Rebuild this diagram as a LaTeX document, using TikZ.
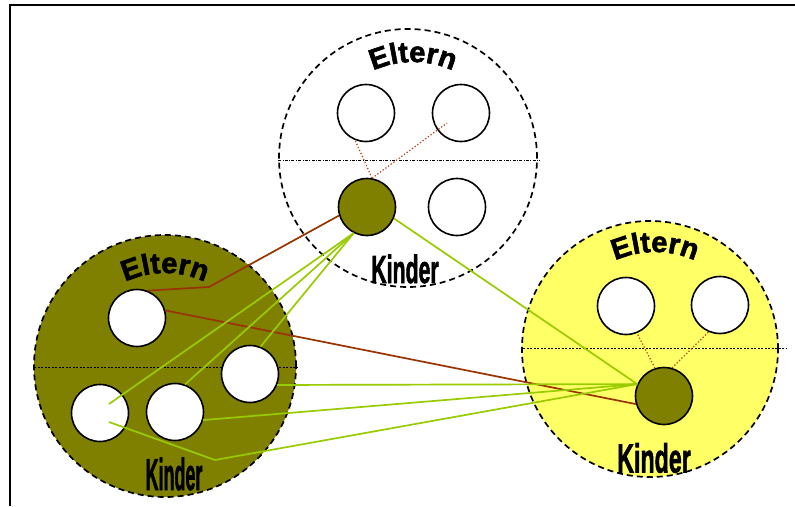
\documentclass[tikz,border=0pt]{standalone}
\usepackage{fontspec}
\setmainfont{Liberation Sans}
\newfontfamily\heavysans[FakeBold=2]{Liberation Sans Bold}
\usetikzlibrary{decorations.text,calc}
\definecolor{olivefill}{HTML}{808000}
\definecolor{paleyellow}{HTML}{FFFF66}
\definecolor{linkgreen}{HTML}{99CC00}
\definecolor{linkred}{HTML}{993300}
\definecolor{dotred}{HTML}{B5451B}
\newcommand\eltfont{\heavysans\fontsize{29}{30}\selectfont}
\newcommand\kindfont{\heavysans\fontsize{28}{30}\selectfont}

\begin{document}
\begin{tikzpicture}[x=1pt,y=-1pt,
  group/.style={circle,draw=black,line width=1.7pt,dash pattern=on 6pt off 4pt,
                inner sep=0pt,minimum size=#1},
  member/.style={circle,draw=black,line width=1.6pt,fill=white,inner sep=0pt,minimum size=57pt},
  divider/.style={black,line width=0.7pt},
  greenlink/.style={linkgreen,line width=1.7pt},
  redlink/.style={linkred,line width=1.7pt},
  kinship/.style={dotred,line width=1.2pt,dash pattern=on 1.3pt off 2pt},
  kindlabel/.style={inner sep=0pt,font=\kindfont}]

% canvas and frame
\fill[white] (0,0) rectangle (795,506);
\useasboundingbox (0,0) rectangle (795,506);
\draw[line width=2pt] (10,506) -- (10,5.3) -- (795,5.3);

% family groups
\node[group=258pt,fill=white] (T) at (408,158) {};
\node[group=262pt,fill=olivefill] (L) at (165,366) {};
\node[group=256pt,fill=paleyellow] (R) at (650,349) {};

% generation dividers
\draw[divider,dash pattern=on 3pt off 1.5pt on 0.7pt off 1.5pt] (278,160) -- (540,160);
\draw[divider,dash pattern=on 2pt off 1.5pt] (34,367) -- (297,367);
\draw[divider,dash pattern=on 2pt off 1.5pt] (523,348) -- (787,348);

% members
\node[member] (T1) at (366,113) {};
\node[member] (T2) at (461,113) {};
\node[member,fill=olivefill] (T3) at (367,207) {};
\node[member] (T4) at (457,207) {};

\node[member] (L1) at (137,318) {};
\node[member] (L2) at (100,413) {};
\node[member] (L3) at (175,412) {};
\node[member] (L4) at (250,374) {};

\node[member] (R1) at (626,306) {};
\node[member] (R2) at (720,305) {};
\node[member,fill=olivefill] (R3) at (664,396) {};

% labels
\path[decorate,decoration={text along path,text={|\eltfont|Eltern},text align=center}]
  ($(413,158)+(-140:96)$) arc[start angle=-140,end angle=-40,radius=96];
\path[decorate,decoration={text along path,text={|\eltfont|Eltern},text align=center}]
  ($(165,366)+(-140:93)$) arc[start angle=-140,end angle=-40,radius=93];
\path[decorate,decoration={text along path,text={|\eltfont|Eltern},text align=center}]
  ($(655,349)+(-140:97)$) arc[start angle=-140,end angle=-40,radius=97];

\node[kindlabel,xscale=0.76,yscale=1.4] (TK) at (405,269) {Kinder};
\node[kindlabel,xscale=0.64,yscale=1.6] (LK) at (174,474) {Kinder};
\node[kindlabel,xscale=0.83,yscale=1.45] (RK) at (654,458) {Kinder};

% helper points
\coordinate (t2in) at ($(T2)+(-14,10)$);
\coordinate (l2a) at ($(L2)+(9,-9)$);
\coordinate (l2b) at ($(L2)+(9,9)$);
\coordinate (redbend) at (209,287);
\coordinate (greenbend) at (215,460);

% parent links inside the groups
\draw[kinship] (T3.80) -- (T1.248);
\draw[kinship] (T3.80) -- (t2in);
\draw[kinship] (R3.108) -- (R1.292);
\draw[kinship] (R3.74) -- (R2.247);

% links between groups
\draw[redlink] (T3.197) -- (redbend) -- (L1.69);
\draw[redlink] (L1.15) -- (R3.196);

\draw[greenlink] (T3.243) -- (l2a);
\draw[greenlink] (T3.243) -- (L3.70);
\draw[greenlink] (T3.243) -- (L4.69);
\draw[greenlink] (T3.337) -- (R3.156);
\draw[greenlink] (L4.338) -- (R3.156);
\draw[greenlink] (L3.344) -- (R3.156);
\draw[greenlink] (l2b) -- (greenbend) -- (R3.156);
\end{tikzpicture}
\end{document}
